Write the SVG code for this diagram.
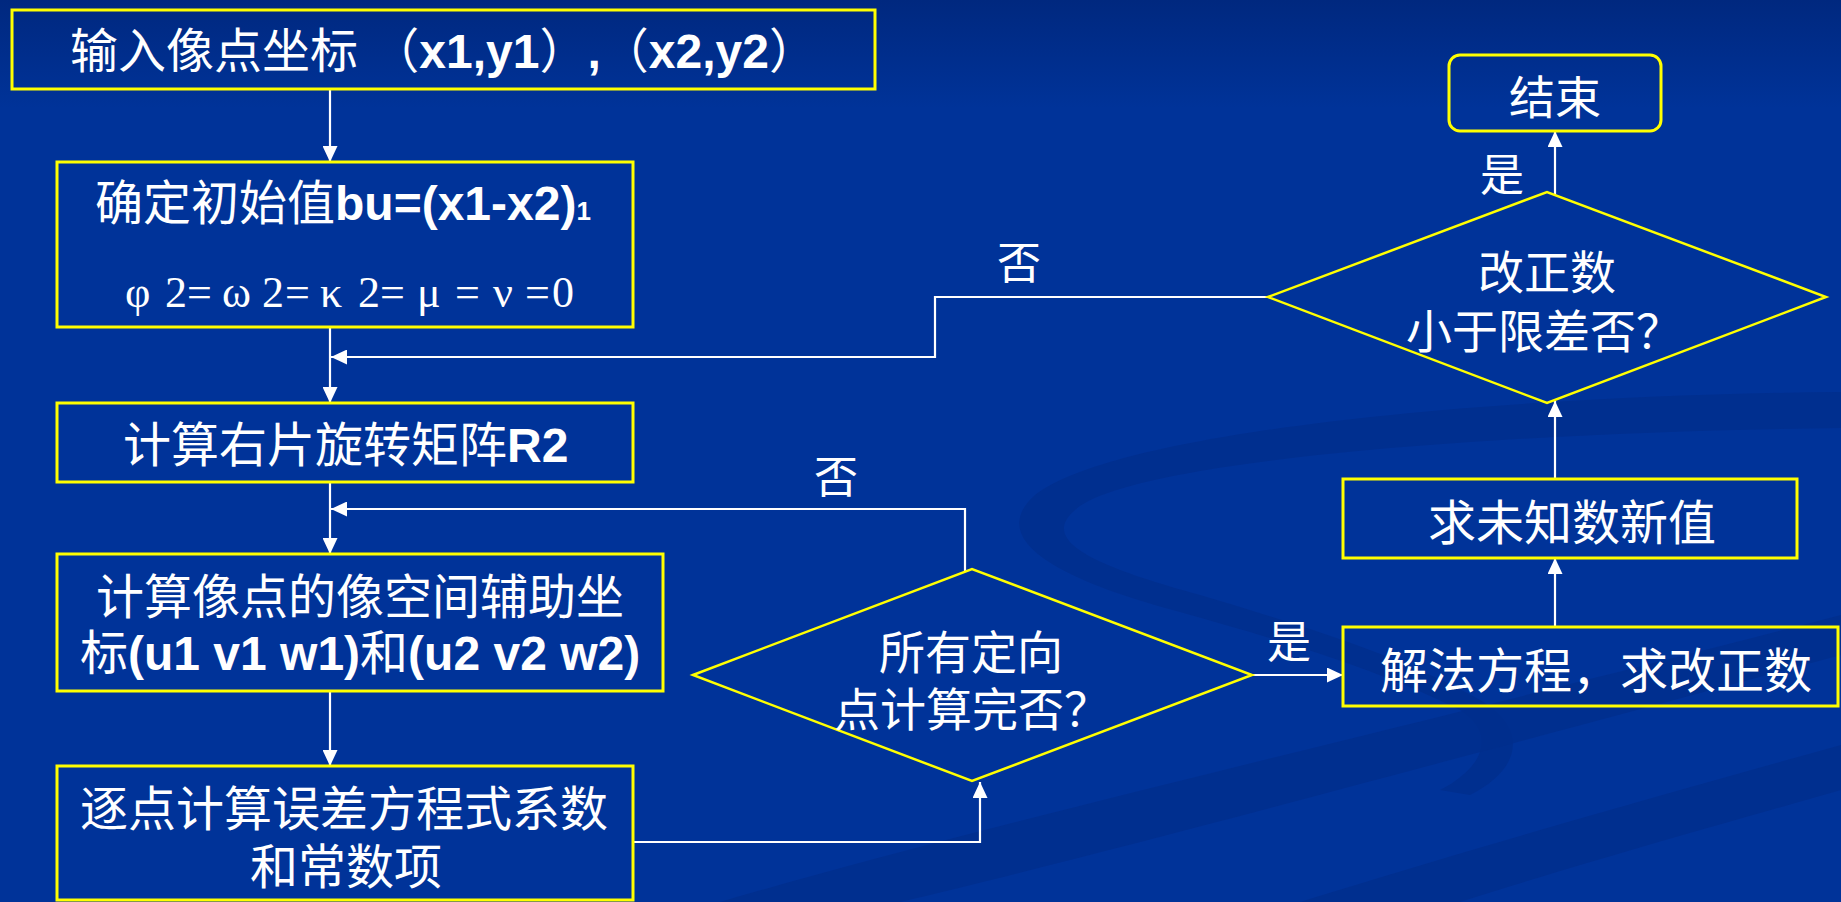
<svg xmlns="http://www.w3.org/2000/svg" width="1841" height="902" viewBox="0 0 1841 902">
<defs>
<linearGradient id="bg" x1="0" y1="0" x2="0" y2="1">
<stop offset="0" stop-color="#00287f"/>
<stop offset="0.12" stop-color="#003399"/>
<stop offset="1" stop-color="#003399"/>
</linearGradient>
<marker id="arr" markerUnits="userSpaceOnUse" markerWidth="16" markerHeight="15" refX="16" refY="7.5" orient="auto">
<path d="M0,0 L16,7.5 L0,15 Z" fill="#ffffff"/>
</marker>
<style>
.box{fill:none;stroke:#ffff00;stroke-width:3}
.dia{fill:none;stroke:#ffff00;stroke-width:2.5}
.ln{fill:none;stroke:#ffffff;stroke-width:2.2}
.ar{marker-end:url(#arr)}
.t{font-family:"Liberation Sans","Noto Sans CJK SC",sans-serif;font-size:48px;fill:#ffffff}
.d{font-family:"Liberation Sans","Noto Sans CJK SC",sans-serif;font-size:46px;fill:#ffffff}
.lb{font-family:"Liberation Sans","Noto Sans CJK SC",sans-serif;font-size:44px;fill:#ffffff}
.b{font-weight:bold}
.g{font-family:"Liberation Serif","Noto Sans CJK SC",serif;font-size:44px;fill:#ffffff}
.sw{fill:#002e8c;opacity:0.8}
</style>
</defs>
<rect x="0" y="0" width="1841" height="902" fill="url(#bg)"/>
<g id="background">
<path class="sw" d="M1841,392 C1500,395 1120,430 1035,495 C985,540 1060,580 1180,612 C1280,640 1380,670 1460,710 C1500,735 1480,770 1440,790 L1470,795 C1520,770 1530,730 1480,700 C1400,655 1300,625 1200,595 C1090,565 1040,540 1075,510 C1130,460 1500,432 1841,428 Z"/>
<path class="sw" d="M720,902 C1000,820 1400,730 1841,615 L1841,655 C1450,760 1120,850 900,902 Z"/>
<path class="sw" d="M1300,902 C1500,840 1680,790 1841,745 L1841,790 C1700,830 1560,870 1460,902 Z"/>
</g>
<g id="connectors">
<line class="ln ar" x1="330" y1="89" x2="330" y2="162"/>
<line class="ln ar" x1="330" y1="327" x2="330" y2="403"/>
<line class="ln ar" x1="330" y1="482" x2="330" y2="554"/>
<line class="ln ar" x1="330" y1="691" x2="330" y2="766"/>
<polyline class="ln ar" points="633,842 980,842 980,782"/>
<polyline class="ln ar" points="965,572 965,509 331,509"/>
<line class="ln ar" x1="1252" y1="675" x2="1343" y2="675"/>
<line class="ln ar" x1="1555" y1="627" x2="1555" y2="558"/>
<line class="ln ar" x1="1555" y1="479" x2="1555" y2="401"/>
<line class="ln ar" x1="1555" y1="195" x2="1555" y2="131"/>
<polyline class="ln ar" points="1268,297 935,297 935,357 331,357"/>
</g>
<g id="labels">
<text class="lb" x="997" y="279">否</text>
<text class="lb" x="814" y="493">否</text>
<text class="lb" x="1480" y="191">是</text>
<text class="lb" x="1267" y="658">是</text>
</g>
<g id="n1">
<rect class="box" x="12" y="10" width="863" height="79"/>
<text class="t" x="70" y="68">输入像点坐标 （<tspan class="b">x1,y1</tspan>）<tspan class="b">,</tspan>（<tspan class="b">x2,y2</tspan>）</text>
</g>
<g id="n2">
<rect class="box" x="57" y="162" width="576" height="165"/>
<text class="t" x="95" y="220">确定初始值<tspan class="b">bu=(x1-x2)</tspan><tspan class="b" font-size="26">1</tspan></text>
<text class="g" x="125 165 187 222 262 285 320 342 358 380 417 440 455 480 493 512 525 552" y="307">φ2=ω2=κ 2=μ = ν =0</text>
</g>
<g id="n3">
<rect class="box" x="57" y="403" width="576" height="79"/>
<text class="t" x="123" y="462">计算右片旋转矩阵<tspan class="b">R2</tspan></text>
</g>
<g id="n4">
<rect class="box" x="57" y="554" width="606" height="137"/>
<text class="t" x="96" y="614">计算像点的像空间辅助坐</text>
<text class="t" x="80" y="670">标<tspan class="b">(u1 v1 w1)</tspan>和<tspan class="b">(u2 v2 w2)</tspan></text>
</g>
<g id="n5">
<rect class="box" x="57" y="766" width="576" height="134"/>
<text class="t" x="80" y="826">逐点计算误差方程式系数</text>
<text class="t" x="250" y="884">和常数项</text>
</g>
<g id="n6">
<polygon class="dia" points="693,675 972,569 1252,675 972,781"/>
<text class="d" x="879" y="669">所有定向</text>
<text class="d" x="834" y="726">点计算完否？</text>
</g>
<g id="n7">
<rect class="box" x="1343" y="627" width="495" height="79"/>
<text class="t" x="1380" y="688">解法方程，求改正数</text>
</g>
<g id="n8">
<rect class="box" x="1343" y="479" width="454" height="79"/>
<text class="t" x="1428" y="540">求未知数新值</text>
</g>
<g id="n9">
<polygon class="dia" points="1268,297 1547,192 1826,297 1547,403"/>
<text class="d" x="1478" y="289">改正数</text>
<text class="d" x="1406" y="348">小于限差否？</text>
</g>
<g id="n10">
<rect class="box" x="1449" y="55" width="212" height="76" rx="11" ry="11"/>
<text class="d" x="1555" y="114" text-anchor="middle">结束</text>
</g>
</svg>
